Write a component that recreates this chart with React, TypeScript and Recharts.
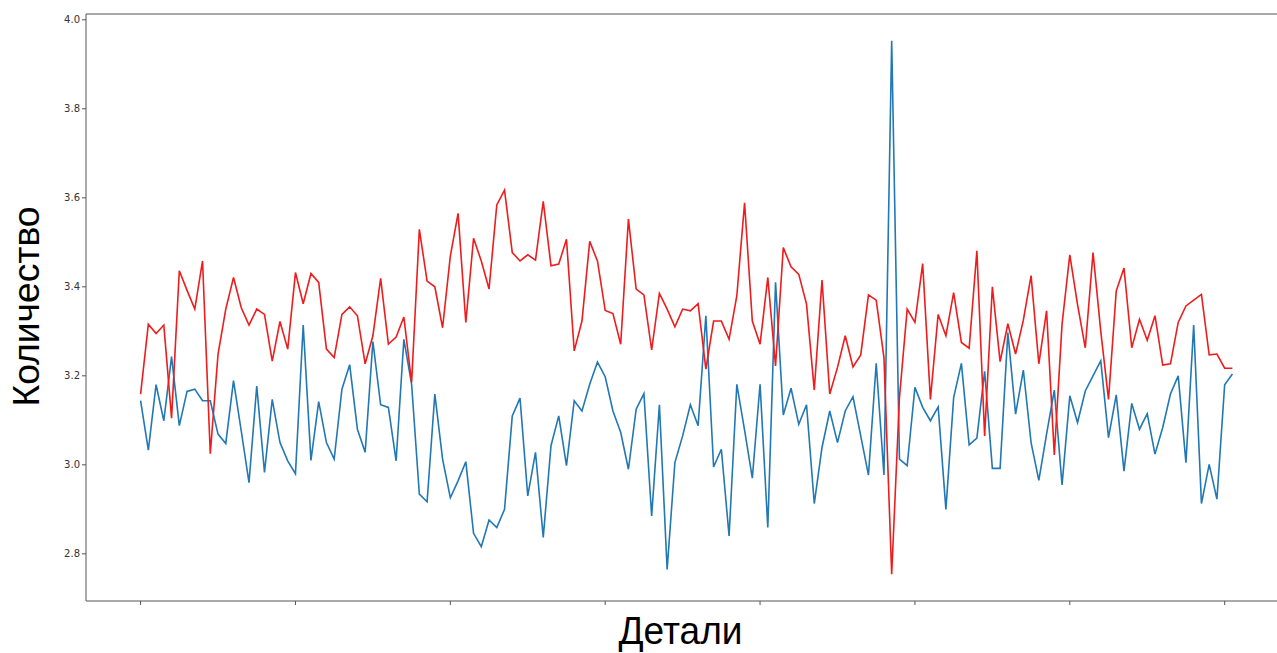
import { LineChart, Line, XAxis, YAxis, ReferenceLine, Label } from 'recharts';

// blue series (first line)
const blueValues = [
  3.144, 3.033, 3.18, 3.099, 3.243, 3.088, 3.165, 3.17, 3.144, 3.144,
  3.069, 3.048, 3.189, 3.076, 2.96, 3.177, 2.983, 3.147, 3.05, 3.009,
  2.98, 3.314, 3.01, 3.142, 3.05, 3.013, 3.17, 3.225, 3.08, 3.028,
  3.277, 3.135, 3.129, 3.009, 3.282, 3.181, 2.934, 2.917, 3.159, 3.013,
  2.926, 2.964, 3.007, 2.846, 2.816, 2.876, 2.859, 2.9, 3.11, 3.15,
  2.93, 3.028, 2.837, 3.043, 3.11, 2.998, 3.144, 3.121, 3.181, 3.231,
  3.198, 3.121, 3.073, 2.99, 3.125, 3.16, 2.885, 3.135, 2.765, 3.005,
  3.065, 3.135, 3.088, 3.335, 2.995, 3.035, 2.84, 3.181, 3.078, 2.97,
  3.181, 2.859, 3.41, 3.112, 3.172, 3.091, 3.135, 2.913, 3.039, 3.121,
  3.05, 3.121, 3.153, 3.065, 2.977, 3.228, 2.977, 3.953, 3.013, 2.998,
  3.174, 3.129, 3.099, 3.13, 2.9, 3.151, 3.228, 3.045, 3.06, 3.21,
  2.992, 2.992, 3.297, 3.114, 3.213, 3.05, 2.965, 3.069, 3.168, 2.955,
  3.155, 3.095, 3.166, 3.2, 3.234, 3.061, 3.157, 2.986, 3.138, 3.08,
  3.115, 3.024, 3.084, 3.159, 3.2, 3.005, 3.314, 2.913, 3.001, 2.923,
  3.18, 3.204,
];

// red series (second line)
const redValues = [
  3.159, 3.316, 3.295, 3.314, 3.105, 3.436, 3.392, 3.35, 3.458, 3.025,
  3.248, 3.35, 3.421, 3.353, 3.314, 3.35, 3.338, 3.233, 3.322, 3.26,
  3.432, 3.362, 3.43, 3.41, 3.26, 3.241, 3.338, 3.355, 3.335, 3.227,
  3.29, 3.419, 3.271, 3.287, 3.332, 3.185, 3.529, 3.413, 3.4, 3.308,
  3.469, 3.565, 3.32, 3.509, 3.458, 3.395, 3.584, 3.617, 3.477, 3.458,
  3.472, 3.46, 3.592, 3.447, 3.451, 3.507, 3.256, 3.323, 3.502, 3.458,
  3.347, 3.34, 3.271, 3.552, 3.395, 3.382, 3.258, 3.385, 3.35, 3.31,
  3.35, 3.346, 3.362, 3.215, 3.323, 3.323, 3.282, 3.38, 3.589, 3.323,
  3.271, 3.421, 3.222, 3.488, 3.445, 3.428, 3.361, 3.168, 3.415, 3.159,
  3.219, 3.29, 3.22, 3.247, 3.382, 3.37, 3.241, 2.754, 3.151, 3.35,
  3.32, 3.452, 3.147, 3.338, 3.29, 3.387, 3.275, 3.262, 3.481, 3.065,
  3.4, 3.232, 3.317, 3.249, 3.325, 3.425, 3.227, 3.346, 3.022, 3.316,
  3.472, 3.36, 3.263, 3.477, 3.3, 3.147, 3.391, 3.442, 3.263, 3.327,
  3.28, 3.335, 3.224, 3.227, 3.32, 3.357, 3.37, 3.383, 3.247, 3.249,
  3.217, 3.217,
];

const xTicks = [0, 20, 40, 60, 80, 100, 120, 140];
const yTicks = [2.8, 3.0, 3.2, 3.4, 3.6, 3.8, 4.0];

const data = redValues.map((r, i) => ({ idx: i, blue: blueValues[i], red: r }));

const xDomain = [-7.05, 148.05];
const yDomain = [2.694, 4.013];

const axisColor = '#555';

export default function App() {
  return (
    <div
      style={{
        position: 'absolute',
        left: 0,
        top: 0,
        width: 1277,
        height: 653,
        overflow: 'hidden',
        background: '#fff',
      }}
    >
      <LineChart
        width={1300}
        height={653}
        data={data}
        margin={{ top: 14, right: 13, bottom: 0, left: 0 }}
      >
        <XAxis
          dataKey="idx"
          type="number"
          domain={xDomain}
          ticks={xTicks}
          tickFormatter={() => ''}
          height={52}
          stroke={axisColor}
          tickSize={4}
          allowDataOverflow
        >
          <Label
            content={({ viewBox }: any) => (
              <text
                x={viewBox.x + viewBox.width / 2 - 6}
                y={viewBox.y + 43}
                textAnchor="middle"
                fontFamily="Liberation Sans, Arial, sans-serif"
                fontSize={39}
                textLength={124}
                lengthAdjust="spacingAndGlyphs"
                fill="#000"
              >
                Детали
              </text>
            )}
          />
        </XAxis>
        <YAxis
          type="number"
          domain={yDomain}
          ticks={yTicks}
          tickFormatter={(v: number) => v.toFixed(1)}
          width={86}
          stroke={axisColor}
          tickSize={4}
          tick={{ fontSize: 10, fill: '#333', fontFamily: 'DejaVu Sans, sans-serif' }}
          allowDataOverflow
        >
          <Label
            content={({ viewBox }: any) => {
              const cx = viewBox.x + 39;
              const cy = viewBox.y + viewBox.height / 2 - 1;
              return (
                <text
                  x={cx}
                  y={cy}
                  transform={`rotate(-90, ${cx}, ${cy})`}
                  textAnchor="middle"
                  fontFamily="Liberation Sans, Arial, sans-serif"
                  fontSize={36}
                  textLength={200}
                  lengthAdjust="spacingAndGlyphs"
                  fill="#000"
                >
                  Количество
                </text>
              );
            }}
          />
        </YAxis>
        <ReferenceLine y={yDomain[1]} stroke={axisColor} />
        <Line
          type="linear"
          dataKey="blue"
          stroke="#2178b4"
          strokeWidth={1.6}
          dot={false}
          isAnimationActive={false}
        />
        <Line
          type="linear"
          dataKey="red"
          stroke="#ee1c1c"
          strokeWidth={1.6}
          dot={false}
          isAnimationActive={false}
        />
      </LineChart>
    </div>
  );
}
